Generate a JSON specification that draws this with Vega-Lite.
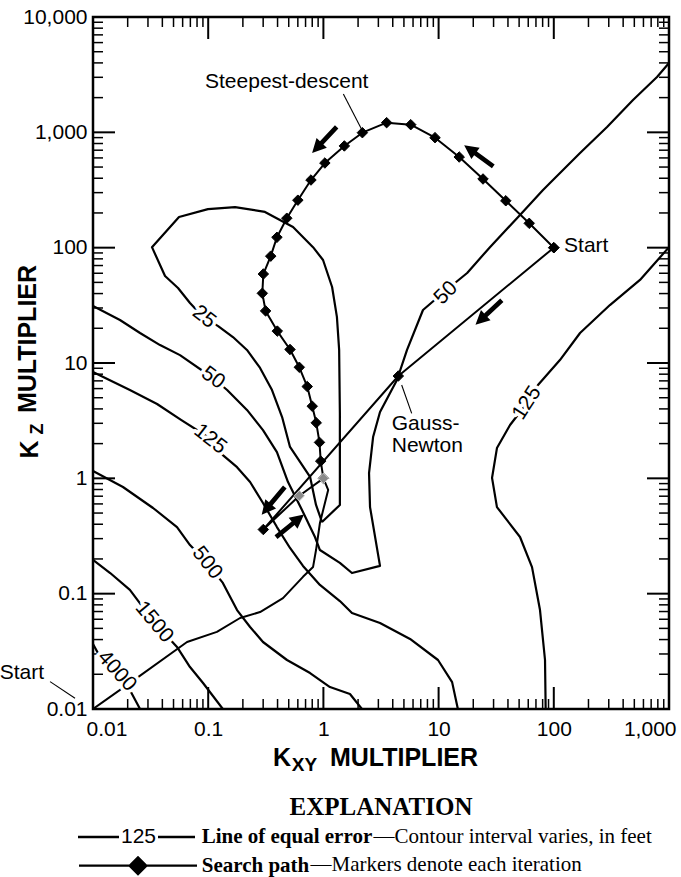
{
  "$schema": "https://vega.github.io/schema/vega-lite/v6.json",
  "width": 576,
  "height": 692,
  "autosize": {"type": "none"},
  "padding": {"left": 93, "top": 17, "right": 12, "bottom": 168},
  "background": "white",
  "title": {"text": "EXPLANATION", "orient": "top", "anchor": "middle", "frame": "group", "offset": -814, "font": "Liberation Serif", "fontSize": 25, "fontWeight": "bold", "color": "black", "baseline": "top"},
  "datasets": {
    "ticks": [
      {"side": "bottom", "rank": "major", "x": 0.01, "y": 0.01}, {"side": "bottom", "rank": "major", "x": 0.1, "y": 0.01}, {"side": "bottom", "rank": "major", "x": 1, "y": 0.01}, {"side": "bottom", "rank": "major", "x": 10, "y": 0.01}, {"side": "bottom", "rank": "major", "x": 100, "y": 0.01}, {"side": "bottom", "rank": "major", "x": 1000, "y": 0.01},
      {"side": "bottom", "rank": "minor", "x": 0.02, "y": 0.01}, {"side": "bottom", "rank": "minor", "x": 0.03, "y": 0.01}, {"side": "bottom", "rank": "minor", "x": 0.04, "y": 0.01}, {"side": "bottom", "rank": "minor", "x": 0.05, "y": 0.01}, {"side": "bottom", "rank": "minor", "x": 0.06, "y": 0.01}, {"side": "bottom", "rank": "minor", "x": 0.07, "y": 0.01}, {"side": "bottom", "rank": "minor", "x": 0.08, "y": 0.01}, {"side": "bottom", "rank": "minor", "x": 0.09, "y": 0.01},
      {"side": "bottom", "rank": "minor", "x": 0.2, "y": 0.01}, {"side": "bottom", "rank": "minor", "x": 0.3, "y": 0.01}, {"side": "bottom", "rank": "minor", "x": 0.4, "y": 0.01}, {"side": "bottom", "rank": "minor", "x": 0.5, "y": 0.01}, {"side": "bottom", "rank": "minor", "x": 0.6, "y": 0.01}, {"side": "bottom", "rank": "minor", "x": 0.7, "y": 0.01}, {"side": "bottom", "rank": "minor", "x": 0.8, "y": 0.01}, {"side": "bottom", "rank": "minor", "x": 0.9, "y": 0.01},
      {"side": "bottom", "rank": "minor", "x": 2, "y": 0.01}, {"side": "bottom", "rank": "minor", "x": 3, "y": 0.01}, {"side": "bottom", "rank": "minor", "x": 4, "y": 0.01}, {"side": "bottom", "rank": "minor", "x": 5, "y": 0.01}, {"side": "bottom", "rank": "minor", "x": 6, "y": 0.01}, {"side": "bottom", "rank": "minor", "x": 7, "y": 0.01}, {"side": "bottom", "rank": "minor", "x": 8, "y": 0.01}, {"side": "bottom", "rank": "minor", "x": 9, "y": 0.01},
      {"side": "bottom", "rank": "minor", "x": 20, "y": 0.01}, {"side": "bottom", "rank": "minor", "x": 30, "y": 0.01}, {"side": "bottom", "rank": "minor", "x": 40, "y": 0.01}, {"side": "bottom", "rank": "minor", "x": 50, "y": 0.01}, {"side": "bottom", "rank": "minor", "x": 60, "y": 0.01}, {"side": "bottom", "rank": "minor", "x": 70, "y": 0.01}, {"side": "bottom", "rank": "minor", "x": 80, "y": 0.01}, {"side": "bottom", "rank": "minor", "x": 90, "y": 0.01},
      {"side": "bottom", "rank": "minor", "x": 200, "y": 0.01}, {"side": "bottom", "rank": "minor", "x": 300, "y": 0.01}, {"side": "bottom", "rank": "minor", "x": 400, "y": 0.01}, {"side": "bottom", "rank": "minor", "x": 500, "y": 0.01}, {"side": "bottom", "rank": "minor", "x": 600, "y": 0.01}, {"side": "bottom", "rank": "minor", "x": 700, "y": 0.01}, {"side": "bottom", "rank": "minor", "x": 800, "y": 0.01}, {"side": "bottom", "rank": "minor", "x": 900, "y": 0.01},
      {"side": "top", "rank": "major", "x": 0.01, "y": 10000}, {"side": "top", "rank": "major", "x": 0.1, "y": 10000}, {"side": "top", "rank": "major", "x": 1, "y": 10000}, {"side": "top", "rank": "major", "x": 10, "y": 10000}, {"side": "top", "rank": "major", "x": 100, "y": 10000}, {"side": "top", "rank": "major", "x": 1000, "y": 10000},
      {"side": "top", "rank": "minor", "x": 0.02, "y": 10000}, {"side": "top", "rank": "minor", "x": 0.03, "y": 10000}, {"side": "top", "rank": "minor", "x": 0.04, "y": 10000}, {"side": "top", "rank": "minor", "x": 0.05, "y": 10000}, {"side": "top", "rank": "minor", "x": 0.06, "y": 10000}, {"side": "top", "rank": "minor", "x": 0.07, "y": 10000}, {"side": "top", "rank": "minor", "x": 0.08, "y": 10000}, {"side": "top", "rank": "minor", "x": 0.09, "y": 10000},
      {"side": "top", "rank": "minor", "x": 0.2, "y": 10000}, {"side": "top", "rank": "minor", "x": 0.3, "y": 10000}, {"side": "top", "rank": "minor", "x": 0.4, "y": 10000}, {"side": "top", "rank": "minor", "x": 0.5, "y": 10000}, {"side": "top", "rank": "minor", "x": 0.6, "y": 10000}, {"side": "top", "rank": "minor", "x": 0.7, "y": 10000}, {"side": "top", "rank": "minor", "x": 0.8, "y": 10000}, {"side": "top", "rank": "minor", "x": 0.9, "y": 10000},
      {"side": "top", "rank": "minor", "x": 2, "y": 10000}, {"side": "top", "rank": "minor", "x": 3, "y": 10000}, {"side": "top", "rank": "minor", "x": 4, "y": 10000}, {"side": "top", "rank": "minor", "x": 5, "y": 10000}, {"side": "top", "rank": "minor", "x": 6, "y": 10000}, {"side": "top", "rank": "minor", "x": 7, "y": 10000}, {"side": "top", "rank": "minor", "x": 8, "y": 10000}, {"side": "top", "rank": "minor", "x": 9, "y": 10000},
      {"side": "top", "rank": "minor", "x": 20, "y": 10000}, {"side": "top", "rank": "minor", "x": 30, "y": 10000}, {"side": "top", "rank": "minor", "x": 40, "y": 10000}, {"side": "top", "rank": "minor", "x": 50, "y": 10000}, {"side": "top", "rank": "minor", "x": 60, "y": 10000}, {"side": "top", "rank": "minor", "x": 70, "y": 10000}, {"side": "top", "rank": "minor", "x": 80, "y": 10000}, {"side": "top", "rank": "minor", "x": 90, "y": 10000},
      {"side": "top", "rank": "minor", "x": 200, "y": 10000}, {"side": "top", "rank": "minor", "x": 300, "y": 10000}, {"side": "top", "rank": "minor", "x": 400, "y": 10000}, {"side": "top", "rank": "minor", "x": 500, "y": 10000}, {"side": "top", "rank": "minor", "x": 600, "y": 10000}, {"side": "top", "rank": "minor", "x": 700, "y": 10000}, {"side": "top", "rank": "minor", "x": 800, "y": 10000}, {"side": "top", "rank": "minor", "x": 900, "y": 10000},
      {"side": "left", "rank": "major", "x": 0.01, "y": 0.01}, {"side": "left", "rank": "major", "x": 0.01, "y": 0.1}, {"side": "left", "rank": "major", "x": 0.01, "y": 1}, {"side": "left", "rank": "major", "x": 0.01, "y": 10}, {"side": "left", "rank": "major", "x": 0.01, "y": 100}, {"side": "left", "rank": "major", "x": 0.01, "y": 1000}, {"side": "left", "rank": "major", "x": 0.01, "y": 10000},
      {"side": "left", "rank": "minor", "x": 0.01, "y": 0.02}, {"side": "left", "rank": "minor", "x": 0.01, "y": 0.03}, {"side": "left", "rank": "minor", "x": 0.01, "y": 0.04}, {"side": "left", "rank": "minor", "x": 0.01, "y": 0.05}, {"side": "left", "rank": "minor", "x": 0.01, "y": 0.06}, {"side": "left", "rank": "minor", "x": 0.01, "y": 0.07}, {"side": "left", "rank": "minor", "x": 0.01, "y": 0.08}, {"side": "left", "rank": "minor", "x": 0.01, "y": 0.09},
      {"side": "left", "rank": "minor", "x": 0.01, "y": 0.2}, {"side": "left", "rank": "minor", "x": 0.01, "y": 0.3}, {"side": "left", "rank": "minor", "x": 0.01, "y": 0.4}, {"side": "left", "rank": "minor", "x": 0.01, "y": 0.5}, {"side": "left", "rank": "minor", "x": 0.01, "y": 0.6}, {"side": "left", "rank": "minor", "x": 0.01, "y": 0.7}, {"side": "left", "rank": "minor", "x": 0.01, "y": 0.8}, {"side": "left", "rank": "minor", "x": 0.01, "y": 0.9},
      {"side": "left", "rank": "minor", "x": 0.01, "y": 2}, {"side": "left", "rank": "minor", "x": 0.01, "y": 3}, {"side": "left", "rank": "minor", "x": 0.01, "y": 4}, {"side": "left", "rank": "minor", "x": 0.01, "y": 5}, {"side": "left", "rank": "minor", "x": 0.01, "y": 6}, {"side": "left", "rank": "minor", "x": 0.01, "y": 7}, {"side": "left", "rank": "minor", "x": 0.01, "y": 8}, {"side": "left", "rank": "minor", "x": 0.01, "y": 9},
      {"side": "left", "rank": "minor", "x": 0.01, "y": 20}, {"side": "left", "rank": "minor", "x": 0.01, "y": 30}, {"side": "left", "rank": "minor", "x": 0.01, "y": 40}, {"side": "left", "rank": "minor", "x": 0.01, "y": 50}, {"side": "left", "rank": "minor", "x": 0.01, "y": 60}, {"side": "left", "rank": "minor", "x": 0.01, "y": 70}, {"side": "left", "rank": "minor", "x": 0.01, "y": 80}, {"side": "left", "rank": "minor", "x": 0.01, "y": 90},
      {"side": "left", "rank": "minor", "x": 0.01, "y": 200}, {"side": "left", "rank": "minor", "x": 0.01, "y": 300}, {"side": "left", "rank": "minor", "x": 0.01, "y": 400}, {"side": "left", "rank": "minor", "x": 0.01, "y": 500}, {"side": "left", "rank": "minor", "x": 0.01, "y": 600}, {"side": "left", "rank": "minor", "x": 0.01, "y": 700}, {"side": "left", "rank": "minor", "x": 0.01, "y": 800}, {"side": "left", "rank": "minor", "x": 0.01, "y": 900},
      {"side": "left", "rank": "minor", "x": 0.01, "y": 2000}, {"side": "left", "rank": "minor", "x": 0.01, "y": 3000}, {"side": "left", "rank": "minor", "x": 0.01, "y": 4000}, {"side": "left", "rank": "minor", "x": 0.01, "y": 5000}, {"side": "left", "rank": "minor", "x": 0.01, "y": 6000}, {"side": "left", "rank": "minor", "x": 0.01, "y": 7000}, {"side": "left", "rank": "minor", "x": 0.01, "y": 8000}, {"side": "left", "rank": "minor", "x": 0.01, "y": 9000},
      {"side": "right", "rank": "major", "x": 1000, "y": 0.01}, {"side": "right", "rank": "major", "x": 1000, "y": 0.1}, {"side": "right", "rank": "major", "x": 1000, "y": 1}, {"side": "right", "rank": "major", "x": 1000, "y": 10}, {"side": "right", "rank": "major", "x": 1000, "y": 100}, {"side": "right", "rank": "major", "x": 1000, "y": 1000}, {"side": "right", "rank": "major", "x": 1000, "y": 10000},
      {"side": "right", "rank": "minor", "x": 1000, "y": 0.02}, {"side": "right", "rank": "minor", "x": 1000, "y": 0.03}, {"side": "right", "rank": "minor", "x": 1000, "y": 0.04}, {"side": "right", "rank": "minor", "x": 1000, "y": 0.05}, {"side": "right", "rank": "minor", "x": 1000, "y": 0.06}, {"side": "right", "rank": "minor", "x": 1000, "y": 0.07}, {"side": "right", "rank": "minor", "x": 1000, "y": 0.08}, {"side": "right", "rank": "minor", "x": 1000, "y": 0.09},
      {"side": "right", "rank": "minor", "x": 1000, "y": 0.2}, {"side": "right", "rank": "minor", "x": 1000, "y": 0.3}, {"side": "right", "rank": "minor", "x": 1000, "y": 0.4}, {"side": "right", "rank": "minor", "x": 1000, "y": 0.5}, {"side": "right", "rank": "minor", "x": 1000, "y": 0.6}, {"side": "right", "rank": "minor", "x": 1000, "y": 0.7}, {"side": "right", "rank": "minor", "x": 1000, "y": 0.8}, {"side": "right", "rank": "minor", "x": 1000, "y": 0.9},
      {"side": "right", "rank": "minor", "x": 1000, "y": 2}, {"side": "right", "rank": "minor", "x": 1000, "y": 3}, {"side": "right", "rank": "minor", "x": 1000, "y": 4}, {"side": "right", "rank": "minor", "x": 1000, "y": 5}, {"side": "right", "rank": "minor", "x": 1000, "y": 6}, {"side": "right", "rank": "minor", "x": 1000, "y": 7}, {"side": "right", "rank": "minor", "x": 1000, "y": 8}, {"side": "right", "rank": "minor", "x": 1000, "y": 9},
      {"side": "right", "rank": "minor", "x": 1000, "y": 20}, {"side": "right", "rank": "minor", "x": 1000, "y": 30}, {"side": "right", "rank": "minor", "x": 1000, "y": 40}, {"side": "right", "rank": "minor", "x": 1000, "y": 50}, {"side": "right", "rank": "minor", "x": 1000, "y": 60}, {"side": "right", "rank": "minor", "x": 1000, "y": 70}, {"side": "right", "rank": "minor", "x": 1000, "y": 80}, {"side": "right", "rank": "minor", "x": 1000, "y": 90},
      {"side": "right", "rank": "minor", "x": 1000, "y": 200}, {"side": "right", "rank": "minor", "x": 1000, "y": 300}, {"side": "right", "rank": "minor", "x": 1000, "y": 400}, {"side": "right", "rank": "minor", "x": 1000, "y": 500}, {"side": "right", "rank": "minor", "x": 1000, "y": 600}, {"side": "right", "rank": "minor", "x": 1000, "y": 700}, {"side": "right", "rank": "minor", "x": 1000, "y": 800}, {"side": "right", "rank": "minor", "x": 1000, "y": 900},
      {"side": "right", "rank": "minor", "x": 1000, "y": 2000}, {"side": "right", "rank": "minor", "x": 1000, "y": 3000}, {"side": "right", "rank": "minor", "x": 1000, "y": 4000}, {"side": "right", "rank": "minor", "x": 1000, "y": 5000}, {"side": "right", "rank": "minor", "x": 1000, "y": 6000}, {"side": "right", "rank": "minor", "x": 1000, "y": 7000}, {"side": "right", "rank": "minor", "x": 1000, "y": 8000}, {"side": "right", "rank": "minor", "x": 1000, "y": 9000}
    ],
    "contours": [
      {"line": "25", "x": 0.973, "y": 0.418}, {"line": "25", "x": 0.863, "y": 0.588}, {"line": "25", "x": 0.766, "y": 1.03}, {"line": "25", "x": 0.513, "y": 1.87}, {"line": "25", "x": 0.438, "y": 3.4}, {"line": "25", "x": 0.358, "y": 5.83}, {"line": "25", "x": 0.282, "y": 9.06}, {"line": "25", "x": 0.217, "y": 12.97}, {"line": "25", "x": 0.164, "y": 16.8}, {"line": "25", "x": 0.122, "y": 20.9}, {"line": "25", "x": 0.0902, "y": 25.1}, {"line": "25", "x": 0.0695, "y": 33.1}, {"line": "25", "x": 0.0547, "y": 44.7}, {"line": "25", "x": 0.0422, "y": 56.8}, {"line": "25", "x": 0.0325, "y": 101}, {"line": "25", "x": 0.0558, "y": 184.6}, {"line": "25", "x": 0.0995, "y": 216}, {"line": "25", "x": 0.171, "y": 225}, {"line": "25", "x": 0.311, "y": 204}, {"line": "25", "x": 0.545, "y": 151}, {"line": "25", "x": 0.813, "y": 101}, {"line": "25", "x": 0.993, "y": 78.2}, {"line": "25", "x": 1.19, "y": 45.6}, {"line": "25", "x": 1.31, "y": 25.1}, {"line": "25", "x": 1.37, "y": 13.0}, {"line": "25", "x": 1.39, "y": 3.69}, {"line": "25", "x": 1.39, "y": 0.588}, {"line": "25", "x": 0.973, "y": 0.418},
      {"line": "50", "x": 0.01, "y": 31.2}, {"line": "50", "x": 0.01714, "y": 23.6}, {"line": "50", "x": 0.0256, "y": 18.2}, {"line": "50", "x": 0.0382, "y": 14.3}, {"line": "50", "x": 0.0569, "y": 11.7}, {"line": "50", "x": 0.11, "y": 7.41}, {"line": "50", "x": 0.146, "y": 5.83}, {"line": "50", "x": 0.217, "y": 3.92}, {"line": "50", "x": 0.299, "y": 2.62}, {"line": "50", "x": 0.395, "y": 1.69}, {"line": "50", "x": 0.493, "y": 0.929}, {"line": "50", "x": 0.652, "y": 0.531}, {"line": "50", "x": 0.845, "y": 0.31}, {"line": "50", "x": 0.933, "y": 0.239}, {"line": "50", "x": 1.39, "y": 0.185}, {"line": "50", "x": 1.77, "y": 0.151}, {"line": "50", "x": 3.1, "y": 0.174}, {"line": "50", "x": 2.54, "y": 0.563}, {"line": "50", "x": 2.49, "y": 1.11}, {"line": "50", "x": 2.7, "y": 2.28}, {"line": "50", "x": 3.1, "y": 3.76}, {"line": "50", "x": 4.35, "y": 7.12}, {"line": "50", "x": 5.32, "y": 13.0}, {"line": "50", "x": 7.32, "y": 28.8}, {"line": "50", "x": 11.4, "y": 42.1}, {"line": "50", "x": 17.7, "y": 60.3}, {"line": "50", "x": 27.9, "y": 101}, {"line": "50", "x": 50.9, "y": 192}, {"line": "50", "x": 80.6, "y": 316}, {"line": "50", "x": 98.4, "y": 386}, {"line": "50", "x": 169, "y": 662}, {"line": "50", "x": 290, "y": 1112}, {"line": "50", "x": 487, "y": 1906}, {"line": "50", "x": 787, "y": 3020}, {"line": "50", "x": 1000, "y": 3990},
      {"line": "125 west", "x": 0.01, "y": 8.36}, {"line": "125 west", "x": 0.0209, "y": 5.83}, {"line": "125 west", "x": 0.036, "y": 4.41}, {"line": "125 west", "x": 0.0581, "y": 3.21}, {"line": "125 west", "x": 0.0995, "y": 2.28}, {"line": "125 west", "x": 0.134, "y": 1.59}, {"line": "125 west", "x": 0.178, "y": 1.25}, {"line": "125 west", "x": 0.231, "y": 0.929}, {"line": "125 west", "x": 0.299, "y": 0.611}, {"line": "125 west", "x": 0.395, "y": 0.378}, {"line": "125 west", "x": 0.513, "y": 0.249}, {"line": "125 west", "x": 0.665, "y": 0.174}, {"line": "125 west", "x": 0.933, "y": 0.119}, {"line": "125 west", "x": 1.39, "y": 0.0863}, {"line": "125 west", "x": 1.77, "y": 0.0679}, {"line": "125 west", "x": 3.1, "y": 0.0557}, {"line": "125 west", "x": 5.65, "y": 0.0405}, {"line": "125 west", "x": 9.88, "y": 0.0266}, {"line": "125 west", "x": 13.1, "y": 0.0171}, {"line": "125 west", "x": 14.7, "y": 0.01},
      {"line": "125 east", "x": 1000, "y": 101}, {"line": "125 east", "x": 560, "y": 52.5}, {"line": "125 east", "x": 307, "y": 31.8}, {"line": "125 east", "x": 169, "y": 18.2}, {"line": "125 east", "x": 113, "y": 10.6}, {"line": "125 east", "x": 72.9, "y": 6.44}, {"line": "125 east", "x": 58.5, "y": 4.5}, {"line": "125 east", "x": 41.7, "y": 2.9}, {"line": "125 east", "x": 32.1, "y": 1.83}, {"line": "125 east", "x": 29.1, "y": 1.01}, {"line": "125 east", "x": 32.1, "y": 0.563}, {"line": "125 east", "x": 50.9, "y": 0.31}, {"line": "125 east", "x": 64.7, "y": 0.17}, {"line": "125 east", "x": 75.9, "y": 0.0721}, {"line": "125 east", "x": 83.9, "y": 0.0266}, {"line": "125 east", "x": 85, "y": 0.01},
      {"line": "500", "x": 0.01, "y": 1.16}, {"line": "500", "x": 0.0182, "y": 0.841}, {"line": "500", "x": 0.0332, "y": 0.553}, {"line": "500", "x": 0.0536, "y": 0.378}, {"line": "500", "x": 0.0695, "y": 0.264}, {"line": "500", "x": 0.0977, "y": 0.185}, {"line": "500", "x": 0.134, "y": 0.124}, {"line": "500", "x": 0.178, "y": 0.0721}, {"line": "500", "x": 0.231, "y": 0.0514}, {"line": "500", "x": 0.299, "y": 0.0381}, {"line": "500", "x": 0.483, "y": 0.0266}, {"line": "500", "x": 0.766, "y": 0.0205}, {"line": "500", "x": 1.14, "y": 0.0155}, {"line": "500", "x": 1.7, "y": 0.0135}, {"line": "500", "x": 2.16, "y": 0.01},
      {"line": "1500", "x": 0.01, "y": 0.196}, {"line": "1500", "x": 0.0141, "y": 0.151}, {"line": "1500", "x": 0.0209, "y": 0.108}, {"line": "1500", "x": 0.0339, "y": 0.0567}, {"line": "1500", "x": 0.0536, "y": 0.0345}, {"line": "1500", "x": 0.0695, "y": 0.0231}, {"line": "1500", "x": 0.0902, "y": 0.0168}, {"line": "1500", "x": 0.134, "y": 0.01},
      {"line": "4000", "x": 0.01, "y": 0.0366}, {"line": "4000", "x": 0.0115, "y": 0.0283}, {"line": "4000", "x": 0.0161, "y": 0.0213}, {"line": "4000", "x": 0.0209, "y": 0.0146}, {"line": "4000", "x": 0.0256, "y": 0.01}
    ],
    "contourLabels": [
      {"label": "25", "x": 0.092, "y": 25.1, "angle": 38},
      {"label": "50", "x": 0.11, "y": 7.41, "angle": 36},
      {"label": "125", "x": 0.104, "y": 2.19, "angle": 38},
      {"label": "500", "x": 0.0977, "y": 0.185, "angle": 52},
      {"label": "1500", "x": 0.0339, "y": 0.0567, "angle": 50},
      {"label": "4000", "x": 0.0161, "y": 0.0213, "angle": 48},
      {"label": "50", "x": 11.6, "y": 40.5, "angle": -45},
      {"label": "125", "x": 58.5, "y": 4.5, "angle": -57}
    ],
    "search": [
      {"method": "Steepest-descent", "iter": 0, "x": 100, "y": 100},
      {"method": "Steepest-descent", "iter": 1, "x": 61.2, "y": 162.6},
      {"method": "Steepest-descent", "iter": 2, "x": 38.3, "y": 255},
      {"method": "Steepest-descent", "iter": 3, "x": 24.3, "y": 394},
      {"method": "Steepest-descent", "iter": 4, "x": 15.1, "y": 611},
      {"method": "Steepest-descent", "iter": 5, "x": 9.31, "y": 899},
      {"method": "Steepest-descent", "iter": 6, "x": 5.73, "y": 1165},
      {"method": "Steepest-descent", "iter": 7, "x": 3.54, "y": 1213},
      {"method": "Steepest-descent", "iter": 8, "x": 2.18, "y": 993},
      {"method": "Steepest-descent", "iter": 9, "x": 1.52, "y": 762},
      {"method": "Steepest-descent", "iter": 10, "x": 1.03, "y": 542},
      {"method": "Steepest-descent", "iter": 11, "x": 0.78, "y": 386},
      {"method": "Steepest-descent", "iter": 12, "x": 0.6, "y": 258},
      {"method": "Steepest-descent", "iter": 13, "x": 0.481, "y": 180},
      {"method": "Steepest-descent", "iter": 14, "x": 0.395, "y": 123},
      {"method": "Steepest-descent", "iter": 15, "x": 0.349, "y": 84.4},
      {"method": "Steepest-descent", "iter": 16, "x": 0.301, "y": 59.1},
      {"method": "Steepest-descent", "iter": 17, "x": 0.295, "y": 40.2},
      {"method": "Steepest-descent", "iter": 18, "x": 0.315, "y": 28.3},
      {"method": "Steepest-descent", "iter": 19, "x": 0.398, "y": 18.9},
      {"method": "Steepest-descent", "iter": 20, "x": 0.513, "y": 13.1},
      {"method": "Steepest-descent", "iter": 21, "x": 0.618, "y": 9.18},
      {"method": "Steepest-descent", "iter": 22, "x": 0.724, "y": 6.25},
      {"method": "Steepest-descent", "iter": 23, "x": 0.8, "y": 4.22},
      {"method": "Steepest-descent", "iter": 24, "x": 0.867, "y": 3.03},
      {"method": "Steepest-descent", "iter": 25, "x": 0.925, "y": 2.05},
      {"method": "Steepest-descent", "iter": 26, "x": 0.948, "y": 1.41},
      {"method": "Steepest-descent", "iter": 27, "x": 1, "y": 1},
      {"method": "Gauss-Newton", "iter": 0, "x": 100, "y": 100},
      {"method": "Gauss-Newton", "iter": 1, "x": 4.47, "y": 7.71},
      {"method": "Gauss-Newton", "iter": 2, "x": 0.301, "y": 0.36},
      {"method": "Gauss-Newton", "iter": 3, "x": 0.618, "y": 0.706},
      {"method": "Gauss-Newton", "iter": 4, "x": 1, "y": 1},
      {"method": "Alternate start", "iter": 0, "x": 0.01, "y": 0.01},
      {"method": "Alternate start", "iter": 1, "x": 0.0241, "y": 0.0186},
      {"method": "Alternate start", "iter": 2, "x": 0.0655, "y": 0.0381},
      {"method": "Alternate start", "iter": 3, "x": 0.119, "y": 0.0466},
      {"method": "Alternate start", "iter": 4, "x": 0.189, "y": 0.0615},
      {"method": "Alternate start", "iter": 5, "x": 0.282, "y": 0.0693},
      {"method": "Alternate start", "iter": 6, "x": 0.446, "y": 0.0916},
      {"method": "Alternate start", "iter": 7, "x": 0.665, "y": 0.14},
      {"method": "Alternate start", "iter": 8, "x": 0.813, "y": 0.17},
      {"method": "Alternate start", "iter": 9, "x": 0.863, "y": 0.239},
      {"method": "Alternate start", "iter": 10, "x": 0.933, "y": 0.41},
      {"method": "Alternate start", "iter": 11, "x": 1.1, "y": 0.793},
      {"method": "Alternate start", "iter": 12, "x": 1, "y": 1}
    ]
  },
  "layer": [
    {
      "data": {"name": "contours"},
      "mark": {"type": "line", "color": "black", "strokeWidth": 2.2, "strokeJoin": "round", "clip": true},
      "encoding": {
        "x": {"field": "x", "type": "quantitative", "scale": {"type": "log", "domain": [0.01, 1000], "nice": false},
          "axis": {"orient": "bottom", "values": [0.01, 0.1, 1, 10, 100, 1000], "ticks": false, "domain": false, "grid": false,
            "labelExpr": "format(datum.value, ',')", "labelFont": "Liberation Sans", "labelFontSize": 21, "labelColor": "black", "labelPadding": 9, "labelFlush": true, "labelFlushOffset": 7, "labelOverlap": false,
            "title": "K", "titleFont": "Liberation Sans", "titleFontSize": 25, "titleFontWeight": "bold", "titleColor": "black", "titleX": 188.5, "titleY": 48, "titleAlign": "center", "titleBaseline": "middle", "titleAngle": 0}},
        "y": {"field": "y", "type": "quantitative", "scale": {"type": "log", "domain": [0.01, 10000], "nice": false},
          "axis": {"orient": "left", "values": [0.01, 0.1, 1, 10, 100, 1000, 10000], "ticks": false, "domain": false, "grid": false,
            "labelExpr": "format(datum.value, ',')", "labelFont": "Liberation Sans", "labelFontSize": 21, "labelColor": "black", "labelPadding": 6, "labelOverlap": false,
            "title": "K", "titleFont": "Liberation Sans", "titleFontSize": 25, "titleFontWeight": "bold", "titleColor": "black", "titleX": -64, "titleY": 432, "titleAlign": "center", "titleBaseline": "middle", "titleAngle": 270}},
        "detail": {"field": "line", "type": "nominal"},
        "order": {"value": null}
      }
    },
    {
      "data": {"name": "search"},
      "mark": {"type": "line", "color": "black", "strokeWidth": 2, "strokeJoin": "round", "clip": true},
      "encoding": {
        "x": {"field": "x", "type": "quantitative", "scale": {"type": "log", "domain": [0.01, 1000], "nice": false},
          "axis": {"orient": "bottom", "values": [1], "ticks": false, "labels": false, "domain": false, "grid": false,
            "title": "XY", "titleFont": "Liberation Sans", "titleFontSize": 19, "titleFontWeight": "bold", "titleColor": "black", "titleX": 211, "titleY": 55, "titleAlign": "center", "titleBaseline": "middle", "titleAngle": 0}},
        "y": {"field": "y", "type": "quantitative", "scale": {"type": "log", "domain": [0.01, 10000], "nice": false},
          "axis": {"orient": "left", "values": [1], "ticks": false, "labels": false, "domain": false, "grid": false,
            "title": "Z", "titleFont": "Liberation Sans", "titleFontSize": 18, "titleFontWeight": "bold", "titleColor": "black", "titleX": -56, "titleY": 411.5, "titleAlign": "center", "titleBaseline": "middle", "titleAngle": 270}},
        "detail": {"field": "method", "type": "nominal"},
        "order": {"value": null}
      }
    },
    {
      "data": {"name": "search"},
      "transform": [{"filter": "datum.method != 'Alternate start'"}],
      "mark": {"type": "point", "shape": "diamond", "filled": true, "size": 110, "strokeWidth": 1, "opacity": 1},
      "encoding": {
        "x": {"field": "x", "type": "quantitative", "scale": {"type": "log", "domain": [0.01, 1000], "nice": false},
          "axis": {"orient": "top", "values": [1], "ticks": false, "labels": false, "domain": false, "grid": false,
            "title": "MULTIPLIER", "titleFont": "Liberation Sans", "titleFontSize": 25, "titleFontWeight": "bold", "titleColor": "black", "titleX": 310.5, "titleY": 740, "titleAlign": "center", "titleBaseline": "middle", "titleAngle": 0}},
        "y": {"field": "y", "type": "quantitative", "scale": {"type": "log", "domain": [0.01, 10000], "nice": false},
          "axis": {"orient": "right", "values": [1], "ticks": false, "labels": false, "domain": false, "grid": false,
            "title": "MULTIPLIER", "titleFont": "Liberation Sans", "titleFontSize": 25, "titleFontWeight": "bold", "titleColor": "black", "titleX": -642, "titleY": 321.5, "titleAlign": "center", "titleBaseline": "middle", "titleAngle": 270}},
        "fill": {"condition": {"test": "datum.method == 'Gauss-Newton' && datum.iter >= 3", "value": "#8a8a8a"}, "value": "black"},
        "stroke": {"condition": {"test": "datum.method == 'Gauss-Newton' && datum.iter >= 3", "value": "#d0d0d0"}, "value": "black"}
      }
    },
    {
      "data": {"name": "ticks"},
      "transform": [{"filter": "datum.side == 'bottom' && datum.rank == 'major'"}],
      "mark": {"type": "point", "shape": "M-1,0H1V-22H-1Z", "filled": true, "color": "black", "size": 4, "opacity": 1, "strokeWidth": 0},
      "encoding": {
        "x": {"field": "x", "type": "quantitative", "scale": {"type": "log", "domain": [0.01, 1000], "nice": false}, "axis": null},
        "y": {"field": "y", "type": "quantitative", "scale": {"type": "log", "domain": [0.01, 10000], "nice": false}, "axis": null}
      }
    },
    {
      "data": {"name": "ticks"},
      "transform": [{"filter": "datum.side == 'bottom' && datum.rank == 'minor'"}],
      "mark": {"type": "point", "shape": "M-0.75,0H0.75V-10H-0.75Z", "filled": true, "color": "black", "size": 4, "opacity": 1, "strokeWidth": 0},
      "encoding": {
        "x": {"field": "x", "type": "quantitative", "scale": {"type": "log", "domain": [0.01, 1000], "nice": false}, "axis": null},
        "y": {"field": "y", "type": "quantitative", "scale": {"type": "log", "domain": [0.01, 10000], "nice": false}, "axis": null}
      }
    },
    {
      "data": {"name": "ticks"},
      "transform": [{"filter": "datum.side == 'top' && datum.rank == 'major'"}],
      "mark": {"type": "point", "shape": "M-1,0H1V22H-1Z", "filled": true, "color": "black", "size": 4, "opacity": 1, "strokeWidth": 0},
      "encoding": {
        "x": {"field": "x", "type": "quantitative", "scale": {"type": "log", "domain": [0.01, 1000], "nice": false}, "axis": null},
        "y": {"field": "y", "type": "quantitative", "scale": {"type": "log", "domain": [0.01, 10000], "nice": false}, "axis": null}
      }
    },
    {
      "data": {"name": "ticks"},
      "transform": [{"filter": "datum.side == 'top' && datum.rank == 'minor'"}],
      "mark": {"type": "point", "shape": "M-0.75,0H0.75V10H-0.75Z", "filled": true, "color": "black", "size": 4, "opacity": 1, "strokeWidth": 0},
      "encoding": {
        "x": {"field": "x", "type": "quantitative", "scale": {"type": "log", "domain": [0.01, 1000], "nice": false}, "axis": null},
        "y": {"field": "y", "type": "quantitative", "scale": {"type": "log", "domain": [0.01, 10000], "nice": false}, "axis": null}
      }
    },
    {
      "data": {"name": "ticks"},
      "transform": [{"filter": "datum.side == 'left' && datum.rank == 'major'"}],
      "mark": {"type": "point", "shape": "M0,-1V1H22V-1Z", "filled": true, "color": "black", "size": 4, "opacity": 1, "strokeWidth": 0},
      "encoding": {
        "x": {"field": "x", "type": "quantitative", "scale": {"type": "log", "domain": [0.01, 1000], "nice": false}, "axis": null},
        "y": {"field": "y", "type": "quantitative", "scale": {"type": "log", "domain": [0.01, 10000], "nice": false}, "axis": null}
      }
    },
    {
      "data": {"name": "ticks"},
      "transform": [{"filter": "datum.side == 'left' && datum.rank == 'minor'"}],
      "mark": {"type": "point", "shape": "M0,-0.75V0.75H10V-0.75Z", "filled": true, "color": "black", "size": 4, "opacity": 1, "strokeWidth": 0},
      "encoding": {
        "x": {"field": "x", "type": "quantitative", "scale": {"type": "log", "domain": [0.01, 1000], "nice": false}, "axis": null},
        "y": {"field": "y", "type": "quantitative", "scale": {"type": "log", "domain": [0.01, 10000], "nice": false}, "axis": null}
      }
    },
    {
      "data": {"name": "ticks"},
      "transform": [{"filter": "datum.side == 'right' && datum.rank == 'major'"}],
      "mark": {"type": "point", "shape": "M0,-1V1H-22V-1Z", "filled": true, "color": "black", "size": 4, "opacity": 1, "strokeWidth": 0},
      "encoding": {
        "x": {"field": "x", "type": "quantitative", "scale": {"type": "log", "domain": [0.01, 1000], "nice": false}, "axis": null},
        "y": {"field": "y", "type": "quantitative", "scale": {"type": "log", "domain": [0.01, 10000], "nice": false}, "axis": null}
      }
    },
    {
      "data": {"name": "ticks"},
      "transform": [{"filter": "datum.side == 'right' && datum.rank == 'minor'"}],
      "mark": {"type": "point", "shape": "M0,-0.75V0.75H-10V-0.75Z", "filled": true, "color": "black", "size": 4, "opacity": 1, "strokeWidth": 0},
      "encoding": {
        "x": {"field": "x", "type": "quantitative", "scale": {"type": "log", "domain": [0.01, 1000], "nice": false}, "axis": null},
        "y": {"field": "y", "type": "quantitative", "scale": {"type": "log", "domain": [0.01, 10000], "nice": false}, "axis": null}
      }
    },
    {
      "data": {"name": "contourLabels"},
      "mark": {"type": "text", "font": "Liberation Sans", "fontSize": 21, "color": "white", "stroke": "white", "strokeWidth": 7, "strokeJoin": "round", "align": "center", "baseline": "middle"},
      "encoding": {
        "x": {"field": "x", "type": "quantitative", "scale": {"type": "log", "domain": [0.01, 1000], "nice": false}, "axis": null},
        "y": {"field": "y", "type": "quantitative", "scale": {"type": "log", "domain": [0.01, 10000], "nice": false}, "axis": null},
        "text": {"field": "label"},
        "angle": {"field": "angle", "type": "quantitative", "scale": null}
      }
    },
    {
      "data": {"name": "contourLabels"},
      "mark": {"type": "text", "font": "Liberation Sans", "fontSize": 21, "color": "black", "align": "center", "baseline": "middle"},
      "encoding": {
        "x": {"field": "x", "type": "quantitative", "scale": {"type": "log", "domain": [0.01, 1000], "nice": false}, "axis": null},
        "y": {"field": "y", "type": "quantitative", "scale": {"type": "log", "domain": [0.01, 10000], "nice": false}, "axis": null},
        "text": {"field": "label"},
        "angle": {"field": "angle", "type": "quantitative", "scale": null}
      }
    },
    {
      "data": {"values": [
        {"note": "Steepest-descent", "x": 0.0938, "y": 2735},
        {"note": "Start", "x": 122.8, "y": 104}
      ]},
      "mark": {"type": "text", "font": "Liberation Sans", "fontSize": 21, "color": "black", "align": "left", "baseline": "middle"},
      "encoding": {
        "x": {"field": "x", "type": "quantitative", "scale": {"type": "log", "domain": [0.01, 1000], "nice": false}, "axis": null},
        "y": {"field": "y", "type": "quantitative", "scale": {"type": "log", "domain": [0.01, 10000], "nice": false}, "axis": null},
        "text": {"field": "note"}
      }
    },
    {
      "data": {"values": [
        {"note": "Gauss-\nNewton", "x": 3.92, "y": 3.66}
      ]},
      "mark": {"type": "text", "font": "Liberation Sans", "fontSize": 21, "color": "black", "align": "left", "baseline": "top", "lineBreak": "\n", "lineHeight": 22},
      "encoding": {
        "x": {"field": "x", "type": "quantitative", "scale": {"type": "log", "domain": [0.01, 1000], "nice": false}, "axis": null},
        "y": {"field": "y", "type": "quantitative", "scale": {"type": "log", "domain": [0.01, 10000], "nice": false}, "axis": null},
        "text": {"field": "note"}
      }
    },
    {
      "data": {"values": [
        {"note": "Start", "x": 0.003755, "y": 0.0207}
      ]},
      "mark": {"type": "text", "font": "Liberation Sans", "fontSize": 21, "color": "black", "align": "right", "baseline": "middle"},
      "encoding": {
        "x": {"field": "x", "type": "quantitative", "scale": {"type": "log", "domain": [0.01, 1000], "nice": false}, "axis": null},
        "y": {"field": "y", "type": "quantitative", "scale": {"type": "log", "domain": [0.01, 10000], "nice": false}, "axis": null},
        "text": {"field": "note"}
      }
    },
    {
      "data": {"values": [
        {"leader": "Steepest-descent", "x": 1.49, "y": 2152, "x2": 2.15, "y2": 1060},
        {"leader": "Gauss-Newton", "x": 4.78, "y": 6.45, "x2": 5.84, "y2": 3.66},
        {"leader": "Start (low)", "x": 0.00424, "y": 0.01726, "x2": 0.00698, "y2": 0.01239}
      ]},
      "mark": {"type": "rule", "color": "black", "strokeWidth": 1.1},
      "encoding": {
        "x": {"field": "x", "type": "quantitative", "scale": {"type": "log", "domain": [0.01, 1000], "nice": false}, "axis": null},
        "y": {"field": "y", "type": "quantitative", "scale": {"type": "log", "domain": [0.01, 10000], "nice": false}, "axis": null},
        "x2": {"field": "x2"},
        "y2": {"field": "y2"}
      }
    },
    {
      "data": {"values": [
        {"path": "Steepest-descent", "x": 1.02, "y": 859, "direction": 133},
        {"path": "Steepest-descent", "x": 22.3, "y": 627, "direction": 216},
        {"path": "Gauss-Newton", "x": 27.2, "y": 27.4, "direction": 137},
        {"path": "Gauss-Newton", "x": 0.367, "y": 0.638, "direction": 130},
        {"path": "Gauss-Newton", "x": 0.513, "y": 0.388, "direction": 321}
      ]},
      "mark": {"type": "point", "shape": "M-1,-0.13L0.22,-0.13L0.22,-0.39L1,0L0.22,0.39L0.22,0.13L-1,0.13Z", "filled": true, "color": "black", "size": 1296, "opacity": 1},
      "encoding": {
        "x": {"field": "x", "type": "quantitative", "scale": {"type": "log", "domain": [0.01, 1000], "nice": false}, "axis": null},
        "y": {"field": "y", "type": "quantitative", "scale": {"type": "log", "domain": [0.01, 10000], "nice": false}, "axis": null},
        "angle": {"field": "direction", "type": "quantitative", "scale": null}
      }
    },
    {
      "data": {"values": [
        {"kind": "Line of equal error"},
        {"kind": "Search path"}
      ]},
      "mark": {"type": "point", "size": 0, "filled": true, "fill": "black", "stroke": "black", "strokeWidth": 0},
      "encoding": {
        "shape": {"field": "kind", "type": "nominal",
          "scale": {"domain": ["Line of equal error", "Search path"],
            "range": [
              "M-59,-1.15H-18V1.15H-59ZM21,-1.15H58V1.15H21Z",
              "M-58,-1.15H60V1.15H-58ZM1,-10L11,0L1,10L-9,0Z"
            ]},
          "legend": {"orient": "none", "legendX": 33.5, "legendY": 809.5, "title": null, "direction": "vertical",
            "labelFont": "Liberation Serif", "labelFontSize": 21, "labelFontWeight": "bold", "labelColor": "black", "labelLimit": 0, "labelOffset": 54.2,
            "symbolSize": 4, "symbolStrokeWidth": 0, "symbolFillColor": "black", "symbolOpacity": 1, "rowPadding": 6.7, "padding": 0}}
      }
    },
    {
      "data": {"values": [{"contour": "125"}]},
      "mark": {"type": "point", "size": 0},
      "encoding": {
        "strokeDash": {"field": "contour", "type": "nominal",
          "legend": {"orient": "none", "legendX": 7, "legendY": 809.5, "title": null,
            "labelFont": "Liberation Sans", "labelFontSize": 21, "labelFontWeight": "normal", "labelColor": "black", "labelLimit": 0, "labelOffset": 0,
            "symbolSize": 0, "symbolStrokeWidth": 0, "symbolOpacity": 0, "padding": 0}}
      }
    },
    {
      "data": {"values": [{"description": "Contour interval varies, in feet"}]},
      "mark": {"type": "point", "size": 0},
      "encoding": {
        "strokeDash": {"field": "description", "type": "nominal",
          "legend": {"orient": "none", "legendX": 259.6, "legendY": 809.5, "title": null,
            "labelFont": "Liberation Serif", "labelFontSize": 21, "labelFontWeight": "normal", "labelColor": "black", "labelLimit": 0, "labelOffset": 0,
            "labelExpr": "'—' + datum.label", "symbolSize": 0, "symbolStrokeWidth": 0, "symbolOpacity": 0, "padding": 0}}
      }
    },
    {
      "data": {"values": [{"description": "Markers denote each iteration"}]},
      "mark": {"type": "point", "size": 0},
      "encoding": {
        "strokeDash": {"field": "description", "type": "nominal",
          "legend": {"orient": "none", "legendX": 196.6, "legendY": 837.2, "title": null,
            "labelFont": "Liberation Serif", "labelFontSize": 21, "labelFontWeight": "normal", "labelColor": "black", "labelLimit": 0, "labelOffset": 0,
            "labelExpr": "'—' + datum.label", "symbolSize": 0, "symbolStrokeWidth": 0, "symbolOpacity": 0, "padding": 0}}
      }
    }
  ],
  "resolve": {
    "axis": {"x": "independent", "y": "independent"},
    "scale": {"strokeDash": "independent"},
    "legend": {"strokeDash": "independent"}
  },
  "config": {
    "font": "Liberation Sans",
    "view": {"stroke": "black", "strokeWidth": 2.5},
    "mark": {"color": "black"}
  }
}
